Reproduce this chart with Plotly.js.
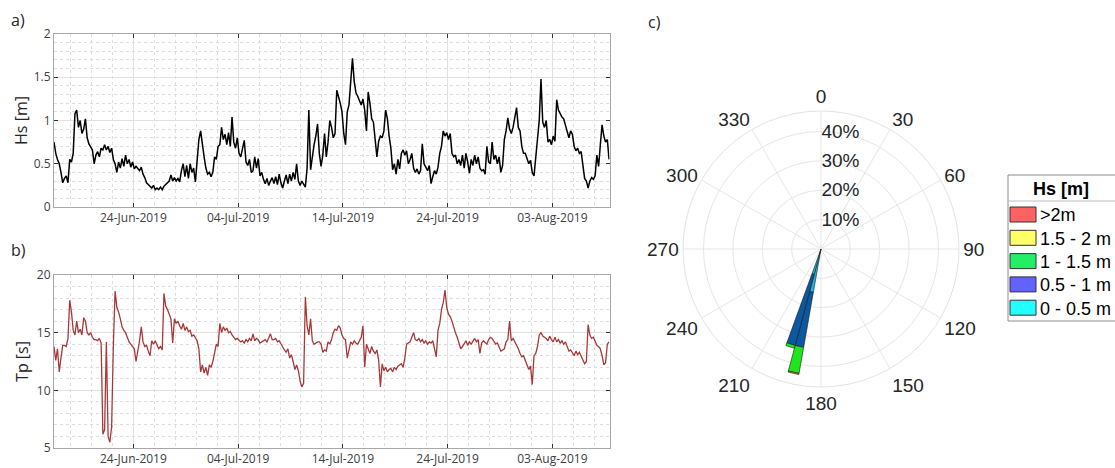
<!DOCTYPE html>
<html>
<head>
<meta charset="utf-8">
<script src="https://cdn.plot.ly/plotly-3.0.1.min.js"></script>
<style>
  html, body { margin: 0; padding: 0; background: #ffffff; }
  #chart { width: 1115px; height: 468px; }
</style>
</head>
<body>
<div id="chart"></div>
<script>
// Buoy record: samples every 4 hours starting 16-Jun-2019 10:00
const recordStartUTC = Date.UTC(2019, 5, 16, 10, 0);
const sampleStepHours = 4;

// Significant wave height Hs [m], one row per day
const hsValues = [
  0.75, 0.62, 0.55, 0.50, 0.40, 0.28,
  0.33, 0.36, 0.28, 0.55, 0.52, 0.62,
  1.08, 1.12, 0.92, 1.00, 0.85, 0.90,
  1.02, 0.80, 0.73, 0.70, 0.66, 0.50,
  0.60, 0.64, 0.58, 0.68, 0.66, 0.72,
  0.66, 0.70, 0.63, 0.68, 0.55, 0.50,
  0.40, 0.52, 0.45, 0.56, 0.47, 0.60,
  0.50, 0.55, 0.46, 0.52, 0.44, 0.47,
  0.45, 0.42, 0.46, 0.38, 0.34, 0.28,
  0.26, 0.24, 0.22, 0.25, 0.20, 0.22,
  0.20, 0.23, 0.20, 0.24, 0.26, 0.28,
  0.30, 0.37, 0.30, 0.34, 0.30, 0.33,
  0.29, 0.42, 0.50, 0.35, 0.48, 0.33,
  0.50, 0.40, 0.45, 0.29, 0.60, 0.78,
  0.88, 0.70, 0.58, 0.45, 0.38, 0.40,
  0.35, 0.40, 0.58, 0.55, 0.70, 0.72,
  0.92, 0.78, 0.84, 0.72, 0.86, 0.70,
  1.04, 0.75, 0.68, 0.80, 0.62, 0.58,
  0.66, 0.77, 0.52, 0.48, 0.55, 0.40,
  0.42, 0.58, 0.45, 0.56, 0.36, 0.40,
  0.32, 0.27, 0.33, 0.25, 0.30, 0.34,
  0.27, 0.35, 0.26, 0.38, 0.28, 0.22,
  0.30, 0.37, 0.27, 0.38, 0.30, 0.40,
  0.32, 0.50, 0.30, 0.25, 0.30, 0.27,
  0.23, 0.45, 1.12, 0.43, 0.60, 0.72,
  0.82, 0.96, 0.62, 0.47, 0.60, 0.85,
  0.58, 0.75, 1.00, 0.92, 0.80, 0.85,
  1.35, 1.28, 1.20, 1.10, 0.85, 0.72,
  1.10, 1.18, 1.50, 1.72, 1.45, 1.32,
  1.28, 1.22, 1.18, 1.25, 1.12, 0.88,
  1.33, 1.20, 1.02, 0.98, 0.78, 0.58,
  0.76, 0.82, 0.80, 0.88, 1.12, 1.02,
  0.82, 0.68, 0.43, 0.50, 0.38, 0.55,
  0.44, 0.62, 0.66, 0.60, 0.65, 0.50,
  0.55, 0.62, 0.45, 0.40, 0.44, 0.38,
  0.42, 0.73, 0.50, 0.45, 0.42, 0.48,
  0.27, 0.35, 0.42, 0.38, 0.46, 0.62,
  0.70, 0.88, 0.82, 0.86, 0.78, 0.85,
  0.62, 0.58, 0.60, 0.50, 0.55, 0.48,
  0.60, 0.45, 0.62, 0.52, 0.39, 0.55,
  0.48, 0.60, 0.50, 0.58, 0.45, 0.42,
  0.43, 0.38, 0.70, 0.52, 0.50, 0.75,
  0.55, 0.60, 0.50, 0.58, 0.40, 0.48,
  0.78, 0.88, 1.03, 0.90, 0.85, 0.92,
  1.05, 1.15, 0.92, 0.88, 0.70, 0.62,
  0.62, 0.55, 0.50, 0.54, 0.40, 0.36,
  0.55, 0.74, 1.00, 1.48, 0.98, 0.92,
  1.00, 0.75, 0.78, 0.72, 0.82, 0.76,
  1.24, 1.12, 1.08, 1.04, 1.02, 0.95,
  0.86, 0.80, 0.88, 0.84, 0.70, 0.65,
  0.68, 0.62, 0.64, 0.50, 0.33, 0.30,
  0.22, 0.30, 0.34, 0.32, 0.36, 0.60,
  0.47, 0.72, 0.95, 0.82, 0.75, 0.78,
  0.55
];

// Peak wave period Tp [s], one row per day
const tpValues = [
  13.8, 12.6, 13.6, 11.6, 12.8, 13.9,
  13.9, 13.8, 14.5, 17.8, 16.8, 15.2,
  14.8, 16.0, 15.0, 15.3, 14.8, 16.3,
  16.0, 15.0, 14.8, 15.0, 14.6, 14.4,
  14.4, 14.3, 14.5, 14.1, 6.2, 6.6,
  14.2, 6.0, 5.5, 6.8, 13.9, 18.6,
  17.2, 16.8, 16.2, 15.5, 15.2, 15.0,
  14.6, 14.2, 14.0, 13.8, 13.6, 12.5,
  13.3, 14.3, 15.5, 14.2, 13.8, 13.9,
  13.4, 13.0, 14.3, 14.0, 14.3, 14.0,
  13.6, 13.8, 13.5, 18.4, 17.3, 17.0,
  16.5, 16.2, 14.1, 16.2, 15.8, 16.0,
  15.6, 15.3, 15.8, 15.2, 15.5, 15.1,
  15.2, 14.7, 14.8, 14.5, 14.3, 13.6,
  11.6, 12.2, 11.5, 12.0, 11.3, 12.2,
  12.0, 12.5, 13.4, 14.0, 13.8, 15.8,
  15.0, 15.5, 15.2, 15.4, 15.0, 15.1,
  14.8, 14.6, 14.4, 14.5, 14.3, 14.2,
  14.3, 14.1, 14.4, 14.2, 14.5, 14.3,
  14.9, 14.3, 14.5, 14.4, 14.1, 14.2,
  14.3, 14.4, 14.2, 14.5, 14.9, 14.4,
  14.4, 14.5, 14.2, 14.3, 14.0, 13.8,
  13.5, 13.3, 13.6, 12.8, 13.1, 12.5,
  11.8, 12.2, 11.7, 10.8, 10.3, 10.6,
  18.1, 15.6, 14.8, 16.2, 14.3, 14.0,
  14.1, 14.2, 14.2, 14.0, 13.3, 13.5,
  13.4, 14.2, 14.0, 14.4, 15.0, 15.3,
  15.2, 15.6, 15.4, 14.8, 14.5, 14.4,
  12.8, 13.6, 14.2, 14.0, 14.3, 14.1,
  14.0, 14.3, 14.6, 15.6, 12.0, 14.0,
  13.5, 13.2, 13.8, 13.4, 13.2, 13.5,
  12.6, 10.3, 12.3, 11.7, 12.0, 11.6,
  11.8, 11.9, 11.6, 12.0, 11.8, 12.1,
  12.2, 12.3, 12.0, 12.8, 14.0, 14.1,
  14.2, 14.6, 15.0, 14.4, 14.3, 14.5,
  14.2, 14.4, 14.1, 14.3, 14.0, 14.2,
  14.1, 14.3, 13.6, 12.9, 15.2, 15.8,
  17.0, 17.6, 18.7, 17.2, 16.6, 16.4,
  16.0, 15.4, 15.0, 14.6, 14.0, 13.6,
  13.8, 14.1, 14.3, 13.9, 14.2, 14.0,
  14.3, 14.5, 14.2, 14.4, 13.2, 14.1,
  14.3, 14.1, 14.0, 14.4, 14.6, 14.5,
  14.2, 14.0, 14.1, 13.7, 13.4, 13.5,
  13.6, 14.2, 14.4, 16.0, 14.3, 14.5,
  14.2, 14.0, 13.6, 13.2, 12.9, 13.0,
  12.6, 12.2, 11.8, 12.1, 10.5, 13.0,
  13.2, 13.8, 14.8, 15.0, 14.7, 14.6,
  14.5, 14.3, 14.7, 14.4, 14.2, 14.6,
  14.2, 14.4, 14.1, 14.3, 14.0, 14.2,
  13.7, 13.4, 13.5, 13.2, 13.0, 13.4,
  13.1, 13.3, 13.0, 12.6, 12.3, 12.5,
  15.7, 14.8, 14.5, 14.6, 14.2, 13.9,
  13.8, 13.6, 13.0, 12.2, 12.4, 14.0,
  14.2
];

// Wave rose: direction sectors [deg] and occurrence [%] per Hs class
const roseDirections = [192.5, 197.5];
const roseSectorWidth = [5, 5];
const roseClassLabels = ['0 - 0.5 m', '0.5 - 1 m', '1 - 1.5 m', '1.5 - 2 m', '>2m'];
const freqHs0to05 = [15, 9];
const freqHs05to1 = [19, 25];
const freqHs1to15 = [9, 1];
const freqHs15to2 = [0.4, 0];
const freqHsOver2 = [0, 0];

// Legend swatches of the Hs classes (top to bottom)
const legendLabels = ['>2m', '1.5 - 2 m', '1 - 1.5 m', '0.5 - 1 m', '0 - 0.5 m'];
const legendColors = ['#ff6262', '#ffff66', '#22ee66', '#6262ff', '#22ffff'];

// Angular / radial tick labels
const angleTicks = [0, 30, 60, 90, 120, 150, 180, 210, 240, 270, 300, 330];
const radialTicks = [10, 20, 30, 40];

// ---- build time axis ----
function stamp(ms) {
  return new Date(ms).toISOString().slice(0, 16).replace('T', ' ');
}
const times = hsValues.map((_, i) => stamp(recordStartUTC + i * sampleStepHours * 3600e3));

const W = 1115, H = 468;
const px = v => v / W;
const py = v => 1 - v / H;

const tickFont = { family: '"Open Sans", "Noto Sans", sans-serif', size: 12, color: '#404040' };
const titleFont = { family: '"Open Sans", "Noto Sans", sans-serif', size: 16, color: '#262626' };
const roseFont = { family: '"Liberation Sans", Arial, sans-serif', size: 19, color: '#262626' };

function dateAxis(anchor) {
  return {
    domain: [px(54), px(609.5)],
    anchor: anchor,
    type: 'date',
    range: ['2019-06-16 10:00', '2019-08-08 11:00'],
    tick0: '2019-06-24',
    dtick: 10 * 86400000,
    tickformat: '%d-%b-%Y',
    ticks: 'inside', ticklen: 4, tickcolor: '#333333', tickwidth: 1,
    showgrid: true, gridcolor: '#e1e1e1', gridwidth: 1,
    minor: { tick0: '2019-06-24', dtick: 2 * 86400000, showgrid: true, gridcolor: '#dedede', griddash: 'dot', gridwidth: 1 },
    showline: true, linecolor: '#a8a8a8', linewidth: 1, mirror: 'ticks',
    zeroline: false,
    tickfont: tickFont,
    automargin: false
  };
}

const traces = [
  {
    type: 'scatter', mode: 'lines', x: times, y: hsValues,
    xaxis: 'x', yaxis: 'y',
    line: { color: '#000000', width: 1.5 },
    hoverinfo: 'x+y'
  },
  {
    type: 'scatter', mode: 'lines', x: times, y: tpValues,
    xaxis: 'x2', yaxis: 'y2',
    line: { color: '#a83838', width: 1.3 },
    hoverinfo: 'x+y'
  }
];

const roseClassFreqs = [freqHs0to05, freqHs05to1, freqHs1to15, freqHs15to2, freqHsOver2];
const roseColors = ['#22b4e0', '#0a58a0', '#1ee61e', '#e08a20', '#e03030'];
roseClassFreqs.forEach((freq, k) => {
  traces.push({
    type: 'barpolar',
    r: freq,
    theta: roseDirections,
    width: roseSectorWidth,
    name: roseClassLabels[k],
    marker: { color: roseColors[k], line: { color: '#1a1a1a', width: 0.6 } },
    subplot: 'polar',
    hoverinfo: 'r+theta+name'
  });
});

// Legend box drawn as shapes + annotations
const shapes = [
  { type: 'rect', xref: 'paper', yref: 'paper', x0: px(1008), x1: px(1125), y0: py(321), y1: py(175),
    line: { color: '#8c8c8c', width: 1 }, fillcolor: '#ffffff', layer: 'above' },
  { type: 'line', xref: 'paper', yref: 'paper', x0: px(1008), x1: px(1125), y0: py(201), y1: py(201),
    line: { color: '#bdbdbd', width: 1 }, layer: 'above' }
];
const annotations = [
  { xref: 'paper', yref: 'paper', x: px(1061), y: py(189), text: '<b>Hs [m]</b>', showarrow: false,
    xanchor: 'center', yanchor: 'middle', font: { family: '"Liberation Sans", Arial, sans-serif', size: 18, color: '#000' } },
  { xref: 'paper', yref: 'paper', x: px(9), y: py(20), text: 'a)', showarrow: false, xanchor: 'left', yanchor: 'middle', font: titleFont },
  { xref: 'paper', yref: 'paper', x: px(9), y: py(250), text: 'b)', showarrow: false, xanchor: 'left', yanchor: 'middle', font: titleFont },
  { xref: 'paper', yref: 'paper', x: px(646), y: py(22), text: 'c)', showarrow: false, xanchor: 'left', yanchor: 'middle', font: titleFont }
];
legendLabels.forEach((lab, i) => {
  const cy = 214.5 + i * 23.3;
  shapes.push({ type: 'rect', xref: 'paper', yref: 'paper', x0: px(1010), x1: px(1036), y0: py(cy + 7.5), y1: py(cy - 7.5),
    line: { color: '#333333', width: 1 }, fillcolor: legendColors[i], layer: 'above' });
  annotations.push({ xref: 'paper', yref: 'paper', x: px(1038), y: py(cy + 1), text: lab, showarrow: false,
    xanchor: 'left', yanchor: 'middle', font: { family: '"Liberation Sans", Arial, sans-serif', size: 18, color: '#000' } });
});

const layout = {
  width: W, height: H,
  margin: { l: 0, r: 0, t: 0, b: 0 },
  paper_bgcolor: '#ffffff', plot_bgcolor: '#ffffff',
  showlegend: false,
  xaxis: dateAxis('y'),
  yaxis: {
    domain: [py(207), py(34)], anchor: 'x',
    range: [0, 2], tick0: 0, dtick: 0.5,
    ticks: 'inside', ticklen: 4, tickcolor: '#333333',
    showgrid: true, gridcolor: '#e1e1e1',
    minor: { dtick: 0.1, showgrid: true, gridcolor: '#dedede', griddash: 'dot' },
    showline: true, linecolor: '#a8a8a8', mirror: 'ticks', zeroline: false,
    tickfont: tickFont,
    title: { text: 'Hs [m]', font: titleFont, standoff: 2 },
    automargin: false
  },
  xaxis2: dateAxis('y2'),
  yaxis2: {
    domain: [py(448), py(275)], anchor: 'x2',
    range: [5, 20], tick0: 5, dtick: 5,
    ticks: 'inside', ticklen: 4, tickcolor: '#333333',
    showgrid: true, gridcolor: '#e1e1e1',
    minor: { dtick: 1, showgrid: true, gridcolor: '#dedede', griddash: 'dot' },
    showline: true, linecolor: '#a8a8a8', mirror: 'ticks', zeroline: false,
    tickfont: tickFont,
    title: { text: 'Tp [s]', font: titleFont, standoff: 4 },
    automargin: false
  },
  polar: {
    domain: { x: [px(821 - 138), px(821 + 138)], y: [py(249 + 138), py(249 - 138)] },
    bgcolor: '#ffffff',
    barmode: 'stack',
    angularaxis: {
      rotation: 90, direction: 'clockwise',
      tickmode: 'array', tickvals: angleTicks, ticktext: angleTicks.map(String),
      ticks: '', showline: true, linecolor: '#e3e3e3', linewidth: 1,
      showgrid: true, gridcolor: '#e6e6e6', gridwidth: 1,
      tickfont: roseFont
    },
    radialaxis: {
      range: [0, 47], angle: 90,
      tickmode: 'array', tickvals: radialTicks, ticktext: radialTicks.map(v => v + '%'),
      ticks: '', showline: false, showgrid: true, gridcolor: '#e6e6e6',
      tickfont: roseFont, tickangle: 90
    }
  },
  shapes: shapes,
  annotations: annotations
};

Plotly.newPlot('chart', traces, layout, { displayModeBar: false, staticPlot: true });
</script>
</body>
</html>
